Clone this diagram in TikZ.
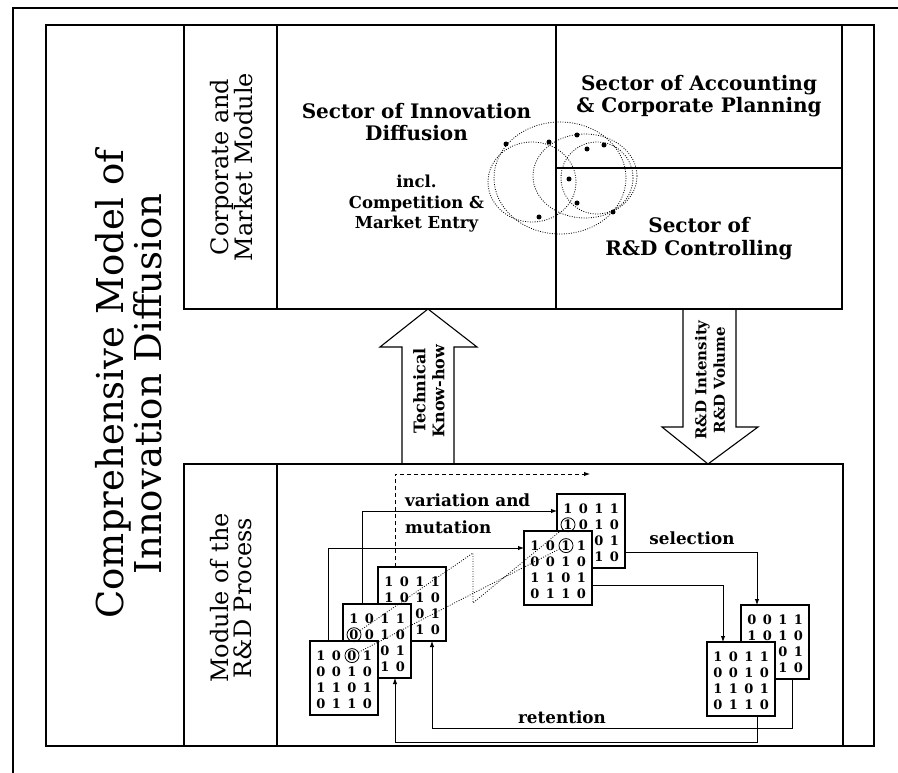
\documentclass[tikz,border=0pt]{standalone}
\usepackage{fontspec}
\setmainfont{DejaVu Serif}
\usetikzlibrary{arrows.meta,calc}
\newcommand\matcell[4]{\node[digit] (#1-#2-#3) at ($(#1.north west)+(-4.5+15.5*#3,-1.5+16.1*#2)$) {#4};}
\newcommand\matrow[3]{\foreach \dd [count=\cc] in {#3}{\matcell{#1}{#2}{\cc}{\dd}}}
% full matrix
\newcommand\binmat[6]{%
  \node[matbox] (#1) at (#2) {};
  \matrow{#1}{1}{#3}\matrow{#1}{2}{#4}\matrow{#1}{3}{#5}\matrow{#1}{4}{#6}}
% matrix partly hidden behind another: only the visible digits of rows 3 and 4
\newcommand\backmat[8]{%
  \node[matbox] (#1) at (#2) {};
  \matrow{#1}{1}{#3}\matrow{#1}{2}{#4}%
  \matcell{#1}{3}{3}{#5}\matcell{#1}{3}{4}{#6}%
  \matcell{#1}{4}{3}{#7}\matcell{#1}{4}{4}{#8}}
\begin{document}
\begin{tikzpicture}[x=1pt,y=-1pt,
  frameline/.style={line width=1.6pt},
  boxn/.style={draw,line width=1.1pt,inner sep=0pt,outer sep=0pt,anchor=north west},
  matbox/.style={draw,fill=white,line width=1.2pt,minimum width=68pt,minimum height=74pt,inner sep=0pt,outer sep=0pt,anchor=north west},
  digit/.style={inner sep=0pt,font=\bfseries\fontsize{13}{13}\selectfont},
  ringnode/.style={circle,draw,line width=0.8pt,minimum size=14pt,inner sep=0pt},
  conn/.style={line width=0.9pt,-{Latex[length=6pt,width=4.5pt]}},
  dashconn/.style={conn,dash pattern=on 4pt off 3pt},
  dotline/.style={line width=0.8pt,dash pattern=on 0.9pt off 1.6pt},
  dotcurve/.style={line width=0.8pt,dash pattern=on 0.9pt off 1.5pt},
  bigarrow/.style={draw,line width=1.1pt,line join=miter},
  titlefont/.style={font=\fontsize{37}{38}\selectfont,align=center,inner sep=0pt},
  modlabel/.style={font=\fontsize{24}{23}\selectfont,align=center,inner sep=0pt},
  sectorlabel/.style={font=\bfseries\fontsize{20}{22}\selectfont,align=center,inner sep=0pt},
  smalllabel/.style={font=\bfseries\fontsize{16.5}{20.5}\selectfont,align=center,inner sep=0pt},
  arrowlabel/.style={font=\bfseries\fontsize{16}{19}\selectfont,align=center,inner sep=0pt},
  proclabel/.style={font=\bfseries\fontsize{16.8}{17}\selectfont,inner sep=0pt},
  blob/.style={circle,fill,inner sep=0pt,minimum size=5pt}
]
\fill[white] (0,0) rectangle (898,773);
\useasboundingbox (0,0) rectangle (898,773);

% outer frames
\draw[frameline] (13,773) -- (13,8) -- (898,8);
\node[boxn,line width=1.3pt,minimum width=828pt,minimum height=721pt] (frame) at (46,25) {};

% big arrows
\draw[bigarrow] (402,464) -- (402,347) -- (380,347) -- (428,309) -- (477,347) -- (454,347) -- (454,464);
\draw[bigarrow] (683,309) -- (683,427) -- (662,427) -- (708,464) -- (758,427) -- (736,427) -- (736,309);

% module boxes
\node[boxn,minimum width=93pt,minimum height=284pt] (cm) at (184,25) {};
\node[boxn,minimum width=279pt,minimum height=284pt] (si) at (277,25) {};
\node[boxn,minimum width=286pt,minimum height=143pt] (sa) at (556,25) {};
\node[boxn,minimum width=286pt,minimum height=141pt] (sc) at (556,168) {};
\draw[line width=1.5pt] (sc.north west) -- (sc.north east);
\node[boxn,minimum width=93pt,minimum height=282pt] (rm) at (184,464) {};
\node[boxn,minimum width=566pt,minimum height=282pt] (rp) at (277,464) {};

% labels
\node[titlefont,rotate=90] (title) at (129,384) {Comprehensive Model of\\Innovation Diffusion};
\node[modlabel,rotate=90] (cml) at ($(cm.center)+(1,0)$) {Corporate and\\Market Module};
\node[modlabel,rotate=90] (rml) at ($(rm.center)+(1,-7)$) {Module of the\\R\&D Process};
\node[sectorlabel] (sil) at (416.5,122.5) {Sector of Innovation\\Diffusion};
\node[smalllabel] (sii) at (416.5,204) {incl.\\Competition \&\\Market Entry};
\node[sectorlabel] (sal) at (sa.center) {Sector of Accounting\\\& Corporate Planning};
\node[sectorlabel,font=\bfseries\fontsize{20}{23.5}\selectfont] (scl) at (sc.center) {Sector of\\R\&D Controlling};
\node[arrowlabel,rotate=90] (tk) at (429,391) {Technical\\Know-how};
\node[arrowlabel,rotate=90,font=\bfseries\fontsize{15}{18.5}\selectfont] (rd) at (710,380) {R\&D Intensity\\R\&D Volume};

% overlapping dotted curves
\draw[dotcurve] (532,182) ellipse [x radius=44, y radius=40];
\draw[dotcurve] (560,178) ellipse [x radius=66, y radius=56];
\draw[dotcurve] (585,176) ellipse [x radius=52, y radius=42];
\draw[dotcurve] (597,178) ellipse [x radius=36, y radius=36];
\foreach \p [count=\i] in {(506,144),(549,142),(577,135),(587,149),(604,145),(569,179),(577,203),(539,217),(613,212)}
  \node[blob] (dot\i) at \p {};

% matrices (back ones first)
\backmat{m3}{378,567}{1,0,1,1}{1,0,1,0}{0}{1}{1}{0}
\backmat{m2}{343,604}{1,0,1,1}{0,0,1,0}{0}{1}{1}{0}
\binmat{m1}{310,641}{1,0,0,1}{0,0,1,0}{1,1,0,1}{0,1,1,0}
\backmat{m5}{557,494}{1,0,1,1}{1,0,1,0}{0}{1}{1}{0}
\binmat{m4}{524,531}{1,0,1,1}{0,0,1,0}{1,1,0,1}{0,1,1,0}
\backmat{m7}{741,605}{0,0,1,1}{1,0,1,0}{0}{1}{1}{0}
\binmat{m6}{707,642}{1,0,1,1}{0,0,1,0}{1,1,0,1}{0,1,1,0}

\node[ringnode] (r1) at (m1-1-3) {};
\node[ringnode] (r2) at (m2-2-1) {};
\node[ringnode] (r4) at (m4-1-3) {};
\node[ringnode] (r5) at (m5-2-1) {};

% connectors
\coordinate (dashend) at (590,474);
\draw[dashconn] ($(m3.north west)+(17,0)$) |- (dashend);
\draw[conn] ($(m2.north west)+(19,0)$) |- ($(m5.north west)+(0,17)$);
\draw[conn] ($(m1.north west)+(18,0)$) |- ($(m4.north west)+(0,17)$);
\draw[conn] ($(m5.north east)+(0,58)$) -| ($(m7.north west)+(16,0)$);
\draw[conn] ($(m4.north east)+(0,54)$) -| ($(m6.north west)+(16,0)$);
\draw[conn] ($(m7.south west)+(51,0)$) -- ++(0,49) -| ($(m3.south west)+(54,0)$);
\draw[conn] ($(m6.south west)+(50,0)$) -- ++(0,26) -| ($(m2.south west)+(52,0)$);

% crossover (dotted)
\coordinate (zt) at (473,553);
\coordinate (zb) at (473,603);
\draw[dotline] (r2) -- (zt) -- (zb) -- (r5);
\draw[dotline] (r1) -- (r4);

% process labels
\node[proclabel,anchor=west] (var) at (405,500) {variation and};
\node[proclabel,anchor=west] (mut) at (405,527) {mutation};
\node[proclabel] (sel) at (692,538) {selection};
\node[proclabel] (ret) at (562,717) {retention};
\end{tikzpicture}
\end{document}
